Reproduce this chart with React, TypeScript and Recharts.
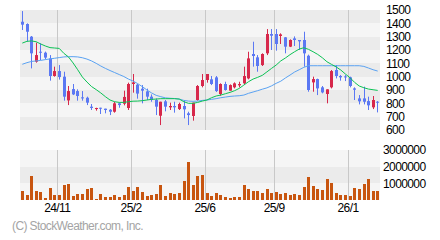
import React from 'react';
import { Bar, CartesianGrid, ComposedChart, Line, XAxis, YAxis } from 'recharts';

// weekly candles, oldest first
const opens = [1412, 1395, 1300, 1112, 1187, 1180, 1137, 1005, 1042, 1000, 822, 907, 892, 845, 842, 775, 757, 767, 760, 752, 737, 800, 797, 765, 945, 940, 910, 890, 850, 825, 707, 815, 770, 780, 757, 780, 725, 705, 825, 930, 975, 980, 995, 870, 945, 895, 920, 935, 950, 987, 1170, 1145, 1087, 1175, 1320, 1320, 1305, 1295, 1225, 1287, 1275, 1275, 1157, 957, 982, 920, 870, 920, 1050, 1005, 1002, 995, 912, 837, 837, 817, 770, 812];
const highs = [1492, 1400, 1305, 1255, 1250, 1188, 1162, 1075, 1087, 1037, 930, 945, 905, 892, 850, 795, 767, 767, 760, 757, 812, 805, 895, 955, 1020, 945, 937, 910, 867, 837, 812, 825, 805, 812, 805, 825, 737, 805, 937, 1020, 1020, 1005, 1005, 950, 962, 942, 957, 962, 1075, 1187, 1262, 1162, 1175, 1357, 1357, 1357, 1325, 1297, 1280, 1302, 1275, 1337, 1165, 1000, 985, 930, 905, 1050, 1087, 1012, 1012, 1000, 920, 862, 925, 850, 855, 817];
const lows = [1350, 1265, 1062, 1105, 1125, 1130, 970, 1000, 978, 820, 787, 862, 820, 820, 787, 750, 745, 720, 725, 712, 730, 767, 785, 750, 880, 835, 800, 825, 812, 712, 637, 740, 750, 730, 750, 687, 637, 670, 820, 920, 955, 937, 885, 857, 895, 895, 912, 920, 945, 980, 1075, 1037, 1080, 1162, 1200, 1195, 1245, 1175, 1222, 1230, 1200, 1075, 887, 887, 862, 875, 800, 912, 987, 970, 967, 920, 825, 792, 792, 750, 757, 732];
const closes = [1390, 1337, 1175, 1162, 1180, 1143, 1005, 1042, 997, 850, 892, 867, 855, 837, 805, 765, 765, 760, 750, 737, 800, 787, 848, 945, 957, 873, 895, 850, 825, 775, 812, 775, 780, 770, 795, 755, 712, 805, 930, 975, 1020, 945, 892, 945, 900, 937, 950, 945, 1005, 1137, 1155, 1080, 1170, 1320, 1307, 1245, 1317, 1225, 1275, 1275, 1265, 1175, 900, 982, 912, 882, 905, 1042, 1005, 995, 995, 930, 902, 815, 812, 785, 825, 805];
const maShort = [1252, 1265, 1268, 1262, 1245, 1230, 1218, 1215, 1212, 1175, 1148, 1103, 1052, 998, 960, 926, 903, 878, 850, 825, 812, 807, 807, 812, 816, 817, 820, 825, 830, 832, 835, 835, 835, 835, 832, 812, 800, 800, 807, 817, 825, 842, 855, 862, 872, 882, 895, 912, 937, 962, 982, 995, 1010, 1036, 1062, 1087, 1118, 1140, 1165, 1187, 1207, 1217, 1205, 1187, 1167, 1142, 1112, 1092, 1073, 1050, 1020, 992, 957, 930, 917, 907, 902, 897];
const maLong = [1093, 1105, 1114, 1118, 1122, 1128, 1133, 1138, 1143, 1148, 1150, 1150, 1148, 1142, 1132, 1118, 1100, 1080, 1062, 1046, 1031, 1016, 1001, 982, 967, 948, 925, 900, 878, 860, 850, 841, 838, 836, 832, 822, 817, 815, 817, 822, 825, 830, 835, 842, 847, 852, 855, 857, 862, 875, 885, 895, 906, 916, 931, 950, 966, 990, 1012, 1035, 1052, 1070, 1082, 1082, 1082, 1082, 1082, 1082, 1082, 1082, 1082, 1082, 1082, 1082, 1077, 1065, 1052, 1042];
const volumes = [540000, 300000, 1440000, 540000, 480000, 120000, 720000, 300000, 300000, 900000, 960000, 240000, 360000, 360000, 660000, 720000, 60000, 360000, 180000, 180000, 300000, 180000, 300000, 780000, 540000, 780000, 480000, 240000, 300000, 360000, 900000, 240000, 420000, 360000, 420000, 1140000, 2280000, 900000, 1440000, 1500000, 420000, 240000, 420000, 300000, 180000, 120000, 180000, 180000, 900000, 660000, 540000, 540000, 420000, 660000, 420000, 480000, 360000, 420000, 300000, 360000, 300000, 780000, 1380000, 840000, 660000, 600000, 1260000, 1020000, 420000, 300000, 300000, 240000, 720000, 660000, 960000, 1260000, 540000, 540000];

const tickIdx = [8, 24, 40, 55, 71];
const tickLabels = ['24/11', '25/2', '25/6', '25/9', '26/1'];
const priceTicks = [600, 700, 800, 900, 1000, 1100, 1200, 1300, 1400, 1500];
const volTicks = [0, 1000000, 2000000, 3000000];

const rows = opens.map((o, i) => ({
  i,
  o,
  h: highs[i],
  l: lows[i],
  c: closes[i],
  ma1: maShort[i],
  ma2: maLong[i],
  v: volumes[i],
}));

const RED = '#d7284b';
const BLUE = '#5b78f3';
const VOL = '#c8550f';
const GRID = '#c8c8c8';

const Candle = (props: any) => {
  const { x, y, height, payload } = props;
  if (x == null || y == null) return null;
  const top = Math.min(y, y + height);
  const hh = Math.abs(height);
  const { o, h, l, c } = payload;
  const color = c >= o ? RED : BLUE;
  const k = hh / (h - l || 1);
  const bTop = top + (h - Math.max(o, c)) * k;
  const bBot = top + (h - Math.min(o, c)) * k;
  const bx = Math.round(x);
  return (
    <g>
      <line x1={bx + 1.5} x2={bx + 1.5} y1={top} y2={top + hh} stroke={color} strokeWidth={1} />
      <rect x={bx} y={bTop} width={3} height={Math.max(1, bBot - bTop)} fill={color} />
    </g>
  );
};

const VolBar = (props: any) => {
  const { x, y, height } = props;
  if (x == null || !height) return null;
  return <rect x={Math.round(x)} y={y} width={3} height={height} fill={VOL} />;
};

// grid line on the left column of the labelled week's bar
const gridX = ({ offset }: any) =>
  tickIdx.map((t) => Math.round(offset.left + (t * offset.width) / rows.length) + 0.5);

const tickStyle = { fontSize: 12, fill: '#000' };

export default function App() {
  return (
    <div
      style={{
        position: 'absolute',
        left: 0,
        top: 0,
        width: 440,
        height: 240,
        background: '#fff',
        fontFamily: '"Liberation Sans", Arial, sans-serif',
        letterSpacing: '-0.6px',
      }}
    >
      <div style={{ position: 'absolute', left: 0, top: 0 }}>
        <ComposedChart width={440} height={140} data={rows} margin={{ top: 10, right: 0, bottom: 10, left: 20 }}>
          <CartesianGrid vertical={false} stroke="none" horizontalFill={['#ebebeb', '#f5f5f5']} />
          <CartesianGrid horizontal={false} stroke={GRID} verticalCoordinatesGenerator={gridX} />
          <XAxis dataKey="i" hide ticks={tickIdx} />
          <YAxis
            orientation="right"
            domain={[600, 1500]}
            ticks={priceTicks}
            interval={0}
            width={60}
            axisLine={false}
            tickLine={false}
            tickSize={0}
            tickMargin={6}
            tick={tickStyle}
          />
          <Bar dataKey={(d: any) => [d.l, d.h]} barSize={3} shape={Candle} isAnimationActive={false} />
          <Line dataKey="ma2" stroke="#5aa2f2" strokeWidth={1} dot={false} activeDot={false} isAnimationActive={false} />
          <Line dataKey="ma1" stroke="#0cc255" strokeWidth={1} dot={false} activeDot={false} isAnimationActive={false} />
        </ComposedChart>
      </div>
      <div style={{ position: 'absolute', left: 0, top: 140 }}>
        <ComposedChart width={440} height={100} data={rows} margin={{ top: 10, right: 0, bottom: 20, left: 20 }}>
          <CartesianGrid vertical={false} stroke="none" horizontalFill={['#f5f5f5', '#ebebeb']} />
          <CartesianGrid horizontal={false} stroke={GRID} verticalCoordinatesGenerator={gridX} />
          <XAxis
            dataKey="i"
            ticks={tickIdx}
            interval={0}
            height={20}
            axisLine={false}
            tickLine={false}
            tickSize={0}
            tickMargin={3}
            tick={{ ...tickStyle, dx: -2 }}
            tickFormatter={(v: number) => tickLabels[tickIdx.indexOf(v)] ?? ''}
          />
          <YAxis
            orientation="right"
            domain={[0, 3000000]}
            ticks={volTicks}
            interval={0}
            width={60}
            axisLine={false}
            tickLine={false}
            tickSize={0}
            tickMargin={3}
            tick={tickStyle}
            tickFormatter={(v: number) => (v === 0 ? '' : String(v))}
          />
          <Bar dataKey="v" barSize={3} shape={VolBar} isAnimationActive={false} />
        </ComposedChart>
      </div>
      <div style={{ position: 'absolute', left: 12, top: 219, fontSize: 12, color: '#a4a4a4', whiteSpace: 'nowrap' }}>
        (C) StockWeather.com, Inc.
      </div>
    </div>
  );
}
